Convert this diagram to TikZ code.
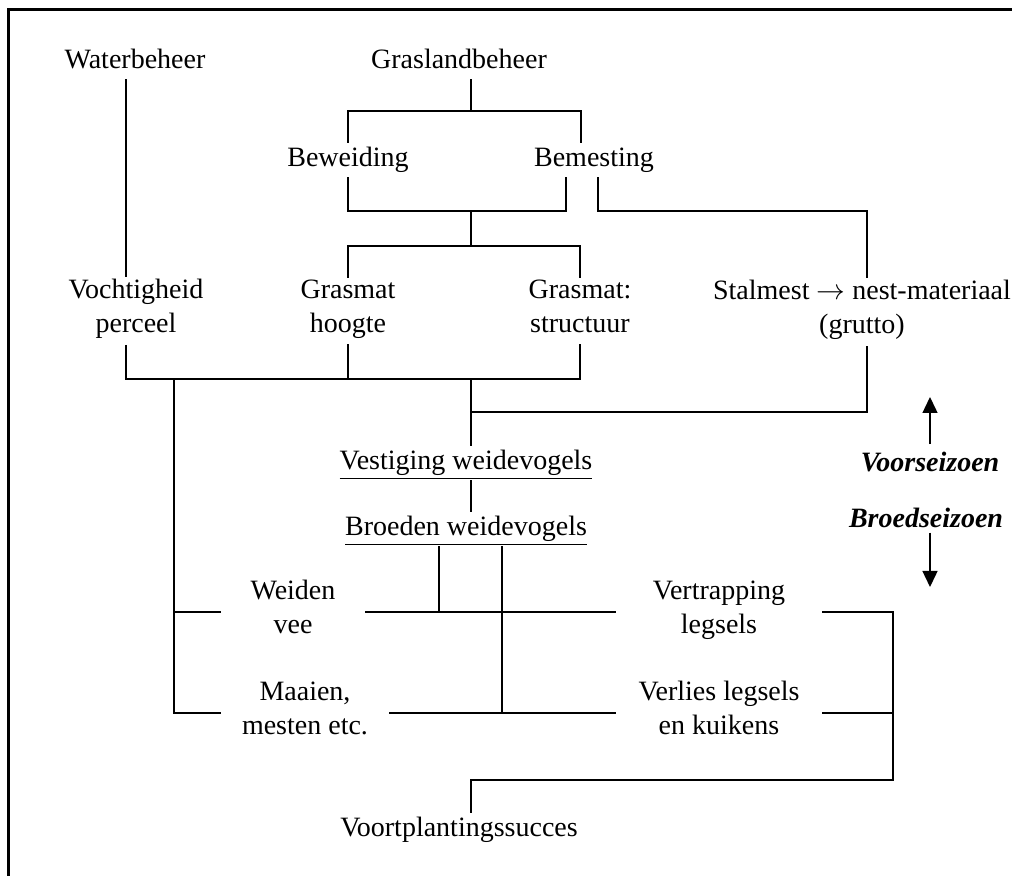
\documentclass[tikz,border=0pt]{standalone}
\usepackage{fontspec}
\setmainfont{Liberation Serif}
\usetikzlibrary{arrows.meta}
\tikzset{
  lbl/.style={inner sep=0pt, align=center, font=\fontsize{14}{17}\selectfont,
    execute at begin node=\strut, execute at end node=\strut},
  lijn/.style={line width=1pt},
  pijl/.style={line width=0.7pt, -{Triangle[width=7.5pt,length=8pt]}},
  seizoen/.style={anchor=base, font=\fontsize{14}{17}\selectfont\bfseries\itshape},
}
\begin{document}
\begin{tikzpicture}[x=0.5pt,y=-0.5pt]
\useasboundingbox (0,0) rectangle (1012,876);
% frame
\draw[line width=1.5pt] (8,876) -- (8,10) -- (1012,10);
% nodes
\node[lbl, minimum height=15pt] (wb) at (135,62) {Waterbeheer};
\node[lbl, minimum height=14pt] (gb) at (459,62) {Graslandbeheer};
\node[lbl, minimum height=17pt] (bw) at (348,160) {Beweiding};
\node[lbl, minimum height=17pt] (bm) at (594,160) {Bemesting};
\node[lbl, minimum height=33.5pt] (vp) at (136,311) {Vochtigheid\\perceel};
\node[lbl, minimum height=33pt] (gh) at (348,311) {Grasmat\\hoogte};
\node[lbl, minimum height=33pt] (gs) at (580,311) {Grasmat:\\structuur};
\node[lbl, minimum height=34pt] (st) at (862,312) {Stalmest $\rightarrow$ nest-materiaal\\(grutto)};
\node[lbl, minimum height=17pt] (ve) at (466,463) {\underline{Vestiging weidevogels}};
\node[lbl, minimum height=17pt] (br) at (466,529) {\underline{Broeden weidevogels}};
\node[lbl, minimum width=72pt] (wv) at (293,612) {Weiden\\vee};
\node[lbl, minimum width=84pt] (mm) at (305,713) {Maaien,\\mesten etc.};
\node[lbl, minimum width=103pt] (vt) at (719,612) {Vertrapping\\legsels};
\node[lbl, minimum width=103pt] (vl) at (719,713) {Verlies legsels\\en kuikens};
\node[lbl, minimum height=17pt] (vs) at (459,830) {Voortplantingssucces};
\node[seizoen, inner sep=4pt] (vz) at (930,472) {Voorseizoen};
\node[seizoen, inner sep=2pt] (bz) at (926,528) {Broedseizoen};
% junctions
\coordinate (jw) at (126,379);
\coordinate (gl) at (471,111);
\coordinate (bmt) at (581,111);
\coordinate (bmb) at (566,211);
\coordinate (bj) at (471,211);
\coordinate (gj) at (471,246);
\coordinate (mj) at (471,379);
\coordinate (bmr) at (598,211);
\coordinate (sr) at (867,211);
\coordinate (sj) at (471,412);
\coordinate (lc) at (174,379);
\coordinate (bl) at (439,612);
\coordinate (brr) at (502,713);
\coordinate (rc) at (893,780);
\coordinate (vj) at (471,780);
\coordinate (up) at (930,397);
\coordinate (down) at (930,587);
% voorseizoen
\draw[lijn] (wb.south -| jw) -- (vp.north -| jw);
\draw[lijn] (gb.south -| gl) -- (gl);
\draw[lijn] (bw.north) |- (bmt) -- (bmt |- bm.north);
\draw[lijn] (bw.south) |- (bmb) -- (bmb |- bm.south);
\draw[lijn] (bj) -- (gj);
\draw[lijn] (gh.north) |- (gj) -| (gs.north);
\draw[lijn] (bmr |- bm.south) -- (bmr) -- (sr) -- (st.north -| sr);
\draw[lijn] (vp.south -| jw) -- (jw) -- (gs.south |- jw) -- (gs.south);
\draw[lijn] (gh.south) -- (gh.south |- jw);
\draw[lijn] (st.south -| sr) |- (sj);
\draw[lijn] (mj) -- (ve.north -| mj);
\draw[lijn] (ve.south -| mj) -- (br.north -| mj);
% broedseizoen
\draw[lijn] (lc) |- (mm.west);
\draw[lijn] (lc |- wv.west) -- (wv.west);
\draw[lijn] (br.south -| bl) -- (bl);
\draw[lijn] (br.south -| brr) -- (brr);
\draw[lijn] (wv.east) -- (vt.west);
\draw[lijn] (mm.east) -- (vl.west);
\draw[lijn] (vt.east) -| (rc) -- (vj) -- (vs.north -| vj);
\draw[lijn] (vl.east) -- (vl.east -| rc);
% seizoenen
\draw[pijl] (vz.north -| up) -- (up);
\draw[pijl] (bz.south -| down) -- (down);
\end{tikzpicture}
\end{document}
